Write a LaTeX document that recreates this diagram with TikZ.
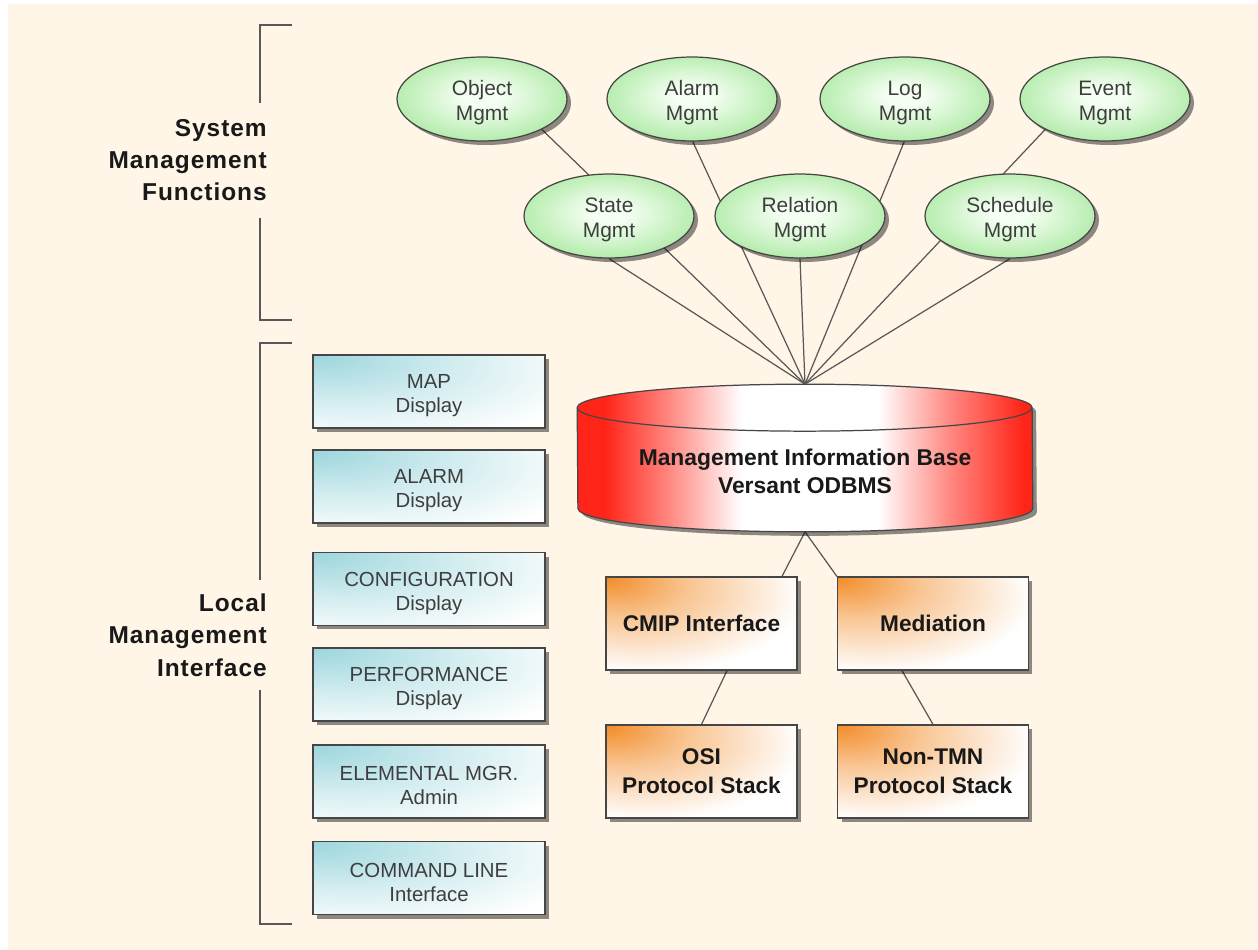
\documentclass[tikz,border=0pt]{standalone}
\usepackage{fontspec}
\setmainfont{Liberation Sans}
\newfontfamily\grouplabelfont[LetterSpace=4]{Liberation Sans}
\usetikzlibrary{shapes.geometric,shadows,calc}

% colours
\definecolor{cream}{RGB}{255,246,232}
\definecolor{smfout}{RGB}{184,237,176}
\definecolor{smfin}{RGB}{246,255,244}
\definecolor{cyanc}{RGB}{156,214,221}
\definecolor{orangec}{RGB}{242,140,40}
\definecolor{mibred}{RGB}{255,36,24}
\definecolor{edgegray}{RGB}{70,70,70}
\definecolor{linkgray}{RGB}{88,88,88}
\definecolor{textgray}{RGB}{62,62,62}
\definecolor{darktext}{RGB}{25,25,25}

% invisible strut that sets the two-line labels a little lower in their shapes
\newcommand{\toplinestrut}{\rule{0pt}{13pt}}

% shadings (the node box maps onto the central part of the shading)
\pgfdeclareradialshading{smfshade}{\pgfpoint{0bp}{2bp}}{color(0bp)=(smfin); color(5bp)=(smfin); color(25bp)=(smfout); color(60bp)=(smfout)}
\pgfdeclareradialshading{dispshade}{\pgfpoint{-25bp}{25bp}}{color(0bp)=(cyanc); color(24bp)=(cyanc!45!white); color(47bp)=(white); color(90bp)=(white)}
\pgfdeclareradialshading{ifaceshade}{\pgfpoint{-25bp}{25bp}}{color(0bp)=(orangec); color(17bp)=(orangec!50!white); color(40bp)=(white); color(90bp)=(white)}
\pgfdeclarehorizontalshading{mibshade}{100bp}{color(0bp)=(mibred); color(28bp)=(mibred); color(35bp)=(mibred!55!white); color(43bp)=(white); color(58bp)=(white); color(66bp)=(mibred!55!white); color(74bp)=(mibred); color(100bp)=(mibred)}

\pgfdeclarelayer{bg}
\pgfdeclarelayer{links}
\pgfsetlayers{bg,links,main}

\tikzset{
  shadowed/.style={drop shadow={shadow xshift=0.08cm, shadow yshift=-0.08cm, fill=black, opacity=0.45}},
  smf/.style={ellipse, minimum width=3.4cm, minimum height=1.68cm, inner sep=0pt,
    draw=edgegray, line width=0.7pt, shading=smfshade, shadowed, text=textgray,
    font=\fontsize{11.9}{14.2}\selectfont, align=center},
  dispbox/.style={rectangle, minimum width=4.64cm, minimum height=1.46cm, inner sep=0pt,
    draw=edgegray, line width=0.7pt, shading=dispshade, shadowed, text=textgray,
    font=\fontsize{11.6}{13.6}\selectfont, align=center},
  ifacebox/.style={rectangle, minimum width=3.82cm, minimum height=1.86cm, inner sep=0pt,
    draw=edgegray, line width=0.7pt, shading=ifaceshade, shadowed, text=darktext,
    font=\bfseries\fontsize{12.9}{16.4}\selectfont, align=center},
  mibbody/.style={draw=edgegray, line width=0.7pt, shading=mibshade, shadowed},
  mibtextstyle/.style={inner sep=0pt, text=darktext, align=center,
    font=\bfseries\fontsize{13}{15.9}\selectfont},
  link/.style={draw=linkgray, line width=0.7pt},
  bracket/.style={draw=linkgray, line width=0.9pt},
  grouplabel/.style={anchor=east, inner sep=0pt, align=right, text=darktext,
    font=\grouplabelfont\bfseries\fontsize{13.9}{18.4}\selectfont}
}

\begin{document}
\begin{tikzpicture}[x=0.02cm, y=-0.02cm]
  % page and background
  \useasboundingbox (0,0) rectangle (1258,950);
  \begin{pgfonlayer}{bg}
    \fill[white] (0,0) rectangle (1258,950);
    \fill[cream] (8,4) rectangle (1258,950);
  \end{pgfonlayer}

  % group labels and their brackets
  \node[grouplabel] (smflabel) at (267,160) {System\\Management\\Functions};
  \node[grouplabel] (lmilabel) at (267,635) {Local\\Management\\Interface};
  \draw[bracket] (292,25) -- (260,25) -- (260,103);
  \draw[bracket] (260,218) -- (260,320) -- (292,320);
  \draw[bracket] (292,343) -- (260,343) -- (260,580);
  \draw[bracket] (260,690) -- (260,924) -- (292,924);

  % system management functions
  \node[smf] (obj)   at (482,99)  {\toplinestrut Object\\Mgmt};
  \node[smf] (alarm) at (692,99)  {\toplinestrut Alarm\\Mgmt};
  \node[smf] (log)   at (905,99)  {\toplinestrut Log\\Mgmt};
  \node[smf] (event) at (1105,99) {\toplinestrut Event\\Mgmt};
  \node[smf] (state) at (609,216) {\toplinestrut State\\Mgmt};
  \node[smf] (rel)   at (800,216) {\toplinestrut Relation\\Mgmt};
  \node[smf] (sched) at (1010,216) {\toplinestrut Schedule\\Mgmt};

  % local management interface displays
  \node[dispbox] (mapd)  at (429,391.5) {\toplinestrut MAP\\Display};
  \node[dispbox] (alrmd) at (429,486.5) {\toplinestrut ALARM\\Display};
  \node[dispbox] (cfgd)  at (429,589)   {\toplinestrut CONFIGURATION\\Display};
  \node[dispbox] (perfd) at (429,684.5) {\toplinestrut PERFORMANCE\\Display};
  \node[dispbox] (elmd)  at (429,781.5) {\toplinestrut ELEMENTAL MGR.\\Admin};
  \node[dispbox] (cmdd)  at (429,878)   {\toplinestrut COMMAND LINE\\Interface};

  % management information base (cylinder)
  \node[minimum width=9.1cm, minimum height=2.94cm, inner sep=0pt] (mib) at (805,458) {};
  \path[mibbody] ($(mib.north west)+(0,23.5)$)
      arc[start angle=180, end angle=0, x radius=4.55cm, y radius=0.47cm]
      -- ($(mib.south east)+(0,-23.5)$)
      arc[start angle=0, end angle=-180, x radius=4.55cm, y radius=0.47cm]
      -- cycle;
  \draw[draw=edgegray, line width=0.7pt] ($(mib.north west)+(0,23.5)$)
      arc[start angle=180, end angle=360, x radius=4.55cm, y radius=0.47cm];
  \node[mibtextstyle] (mibtext) at (805,471) {Management Information Base\\Versant ODBMS};

  % interfaces
  \node[ifacebox] (cmip) at (701.5,623.5) {CMIP Interface};
  \node[ifacebox] (med)  at (933,623.5)   {Mediation};
  \node[ifacebox] (osi)  at (701.5,771.5) {OSI\\Protocol Stack};
  \node[ifacebox] (ntmn) at (933,771.5)   {Non-TMN\\Protocol Stack};

  % connectors
  \begin{pgfonlayer}{links}
    \draw[link] (obj.-27)   -- (mib.north);
    \draw[link] (alarm.-89) -- (mib.north);
    \draw[link] (log.-91)   -- (mib.north);
    \draw[link] (event.-153) -- (mib.north);
    \draw[link] (state.south) -- (mib.north);
    \draw[link] (rel.south)   -- (mib.north);
    \draw[link] (sched.south) -- (mib.north);
    \draw[link] (mib.south) -- ($(cmip.north)+(80.5,0)$);
    \draw[link] (mib.south) -- (med.north west);
    \draw[link] ($(cmip.south)+(25.5,0)$) -- (osi.north);
    \draw[link] ($(med.south)+(-31,0)$) -- (ntmn.north);
  \end{pgfonlayer}
\end{tikzpicture}
\end{document}
